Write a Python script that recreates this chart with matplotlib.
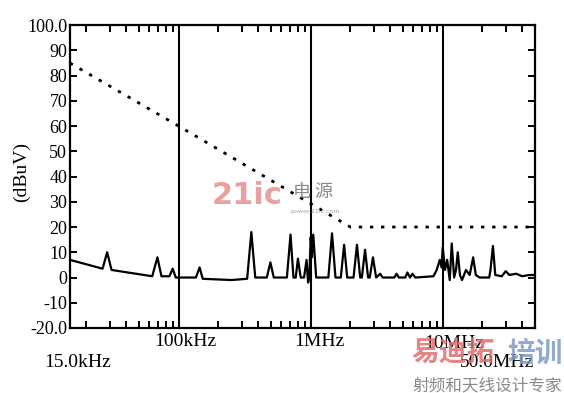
import numpy as np
import matplotlib
matplotlib.use("Agg")
import matplotlib.pyplot as plt
from matplotlib.ticker import LogLocator, NullFormatter, FixedLocator

plt.rcParams['font.family'] = ['Liberation Serif', 'Noto Sans CJK SC', 'DejaVu Sans']

spec_f = [15, 26.5, 28.7, 31, 63, 69, 74, 85, 90, 95, 135, 144, 152, 250, 330, 355, 380,
          465, 495, 525, 660, 703, 740, 770, 800, 840, 890, 930, 955, 975, 1000, 1020, 1045,
          1100, 1360, 1450, 1540, 1690, 1790, 1890, 2110, 2240, 2370, 2440, 2580, 2720,
          2800, 2960, 3130, 3360, 3500, 4300, 4470, 4650, 5200, 5400, 5650, 5900, 6200,
          8500, 9000, 9500, 9800, 10000, 10400, 10800, 11300, 11700, 12200, 12600, 13000,
          13500, 14000, 15000, 16000, 17000, 17800, 19000, 22500, 23000, 24000, 25000,
          28000, 30000, 32000, 36000, 40000, 45000, 50000]
spec_v = [7, 3.5, 10, 3, 0.5, 8, 0.5, 0.5, 3.5, 0, 0, 4, -0.5, -1, -0.5, 18, 0,
          0, 6, 0, 0, 17, 0, 0, 7.5, 0, 0, 7, -2, 0, 16, 8, 17,
          0, 0, 17.5, 0, 0, 13, 0, 0, 13, 0, 0, 11, 0,
          0, 8, 0, 1.5, 0, 0, 1.5, 0, 0, 2, 0, 1.5, 0,
          0.5, 3, 7, 4, 12, 3, 7, -1, 13.5, 0, 3, 10,
          1, -1, 3, 1, 8, 1, 0, 0, 3, 12.5, 1,
          0.5, 2.5, 1, 1.5, 0.5, 1, 1]

# limit line (kHz, dBuV)
limit_f = [15, 100, 2000, 50000]
limit_v = [85, 60, 20, 20]

grid_f = [100, 1000, 10000]
ytick_vals = [-20, -10, 0, 10, 20, 30, 40, 50, 60, 70, 80, 90, 100]
ytick_labels = ['-20.0', '-10', '0', '10', '20', '30', '40', '50', '60', '70', '80', '90', '100.0']

fig = plt.figure(figsize=(5.64, 3.93), dpi=100)
ax = fig.add_axes([0.124, 0.1654, 0.8246, 0.7706])

ax.set_xscale('log')
ax.set_xlim(15, 50000)
ax.set_ylim(-20, 100)

for g in grid_f:
    ax.axvline(g, color='black', lw=1.5, zorder=2)

ax.plot(limit_f, limit_v, color='black', lw=2.0, linestyle=(0, (1.2, 2.8)), zorder=3)
ax.plot(spec_f, spec_v, color='black', lw=1.6, zorder=4)

for s in ax.spines.values():
    s.set_linewidth(1.6)

ax.xaxis.set_major_locator(FixedLocator([]))
ax.xaxis.set_minor_locator(LogLocator(base=10, subs=np.arange(2, 10)))
ax.xaxis.set_minor_formatter(NullFormatter())
ax.tick_params(axis='x', which='minor', direction='in', top=True, bottom=True, length=5, width=1.4)
ax.set_yticks(ytick_vals)
ax.set_yticklabels(ytick_labels)
ax.tick_params(axis='y', direction='in', left=True, right=True, length=5, width=1.4,
               labelsize=13, pad=2)

# x labels
xl = [(100, '100kHz', 4.5, -10), (1000, '1MHz', 6, -10), (10000, '10MHz', 8.5, -11.5)]
for f, txt, dx, dy in xl:
    ax.annotate(txt, xy=(f, 0), xycoords=('data', 'axes fraction'), xytext=(dx, dy),
                textcoords='offset points', ha='center', va='center', fontsize=14, zorder=5)
ax.annotate('15.0kHz', xy=(0, 0), xycoords='axes fraction', xytext=(5.5, -24.5),
            textcoords='offset points', ha='center', va='center', fontsize=14)
ax.annotate('50.0MHz', xy=(1, 0), xycoords='axes fraction', xytext=(-27.5, -24.5),
            textcoords='offset points', ha='center', va='center', fontsize=14, zorder=5)

fig.text(21 / 564, 1 - 172 / 393, '(dBuV)', rotation=90, ha='center', va='center', fontsize=14)

# watermarks
fig.text(247 / 564, 1 - 196 / 393, '21ic', color='#e8a0a0', fontsize=22, fontweight='bold',
         family=['DejaVu Sans'], ha='center', va='center', zorder=0)
fig.text(313 / 564, 1 - 192 / 393, '电 源', color='#8a8a8a', fontsize=13,
         family=['Noto Sans CJK SC'], ha='center', va='center', zorder=0)
fig.text(315 / 564, 1 - 211 / 393, 'power.21ic.com', color='#a0a0a0', fontsize=4.5,
         family=['DejaVu Sans'], ha='center', va='center', zorder=0)
fig.text(411 / 564, 1 - 354 / 393, '易迪拓', color='#e07070', fontsize=20, fontweight='bold',
         family=['Noto Sans CJK SC'], ha='left', va='center', alpha=0.85, zorder=0)
fig.text(563 / 564, 1 - 354 / 393, '培训', color='#7f9cc4', fontsize=20, fontweight='bold',
         family=['Noto Sans CJK SC'], ha='right', va='center', alpha=0.85, zorder=0)
fig.text(487 / 564, 1 - 386 / 393, '射频和天线设计专家', color='#8a8a8a', fontsize=12,
         family=['Noto Sans CJK SC'], ha='center', va='center', zorder=0)

fig.savefig('out.png', dpi=100)
